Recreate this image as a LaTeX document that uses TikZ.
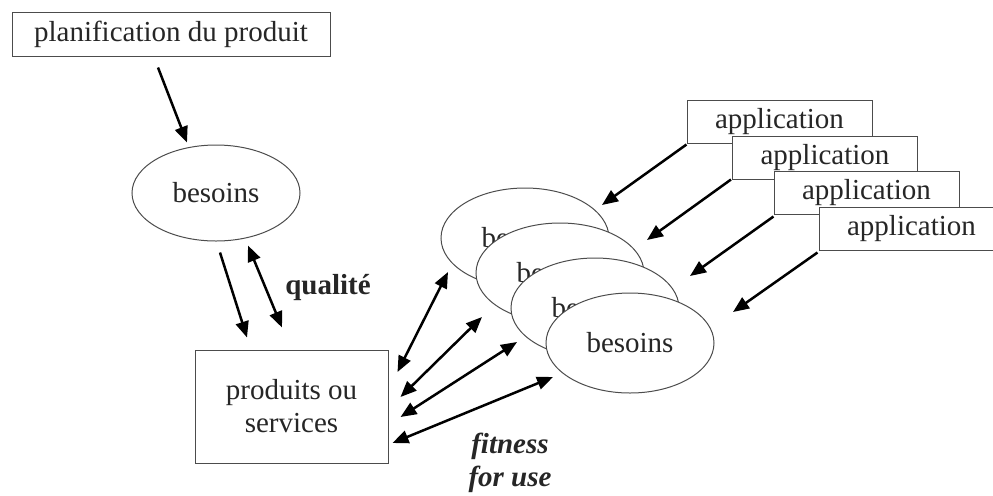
\documentclass[tikz,border=0pt]{standalone}
\usepackage{fontspec}
\setmainfont{Liberation Serif}
\usetikzlibrary{arrows.meta,shapes.geometric}
\newcommand\dgfs{\fontsize{14.5}{16.5}\selectfont}
\begin{document}
\begin{tikzpicture}[x=0.5pt,y=-0.5pt,
 every node/.style={font=\dgfs, inner sep=0pt, text=black!85},
 box/.style={draw=black!70, line width=0.5pt, rectangle, fill=white},
 oval/.style={draw=black!70, line width=0.5pt, ellipse, fill=white, minimum width=84pt, minimum height=50pt},
 arr/.style={line width=1.25pt, -{Triangle[length=8pt,width=6.5pt]}},
 darr/.style={line width=1.25pt, {Triangle[length=8pt,width=6.5pt]}-{Triangle[length=8pt,width=6.5pt]}},
 appbox/.style={box, minimum width=92.5pt, minimum height=21.5pt},
 lblq/.style={font=\dgfs\bfseries},
 lblf/.style={font=\dgfs\bfseries\itshape, align=center}
]
\useasboundingbox (0,0) rectangle (993,495);
\clip (0,0) rectangle (993,495);

% left part
\node[box, minimum width=159pt, minimum height=22pt] (plan) at (171,34) {planification du produit};
\node[oval, minimum height=48pt] (bes) at (216,193) {besoins};
\node[box, minimum width=96.5pt, minimum height=56.5pt, align=center] (prod) at (291.5,406.5) {produits ou\\services};
\node[lblq] (qual) at (328,288) {qualité};

% stacked ellipses
\node[oval] (e1) at (525,238) {besoins};
\node[oval] (e2) at (560,273) {besoins};
\node[oval] (e3) at (595,308) {besoins};
\node[oval] (e4) at (630,343) {besoins};

% stacked application boxes
\node[appbox] (a1) at (779.5,121.5) {application};
\node[appbox] (a2) at (825,157.5) {application};
\node[appbox] (a3) at (866.5,192.5) {application};
\node[appbox] (a4) at (911.5,228.5) {application};

\node[lblf] (fit) at (510,463) {fitness\\for use};

% connectors
\draw[arr] ([shift={(-13,11)}]plan.south) -- ([shift={(-29,-2)}]bes.north);
\draw[arr] ([shift={(4,11)}]bes.south) -- ([shift={(-44.5,-12)}]prod.north);
\draw[darr] ([shift={(32,4)}]bes.south) -- ([shift={(-9.5,-22)}]prod.north);

\draw[arr] ([shift={(0,1)}]a1.south west) -- ([shift={(77,-33)}]e1.center);
\draw[arr] ([shift={(-1,0)}]a2.south west) -- ([shift={(87,-33)}]e2.center);
\draw[arr] ([shift={(0,2)}]a3.south west) -- ([shift={(95,-32)}]e3.center);
\draw[arr] ([shift={(-1,2)}]a4.south west) -- ([shift={(103,-31)}]e4.center);

\draw[darr] ([shift={(9,-34.5)}]prod.east) -- ([shift={(-77,34)}]e1.center);
\draw[darr] ([shift={(12,-9.5)}]prod.east) -- ([shift={(-78,44)}]e2.center);
\draw[darr] ([shift={(12,10.5)}]prod.east) -- ([shift={(-78,34)}]e3.center);
\draw[darr] ([shift={(4,36.5)}]prod.east) -- ([shift={(-77,34)}]e4.center);
\end{tikzpicture}
\end{document}
